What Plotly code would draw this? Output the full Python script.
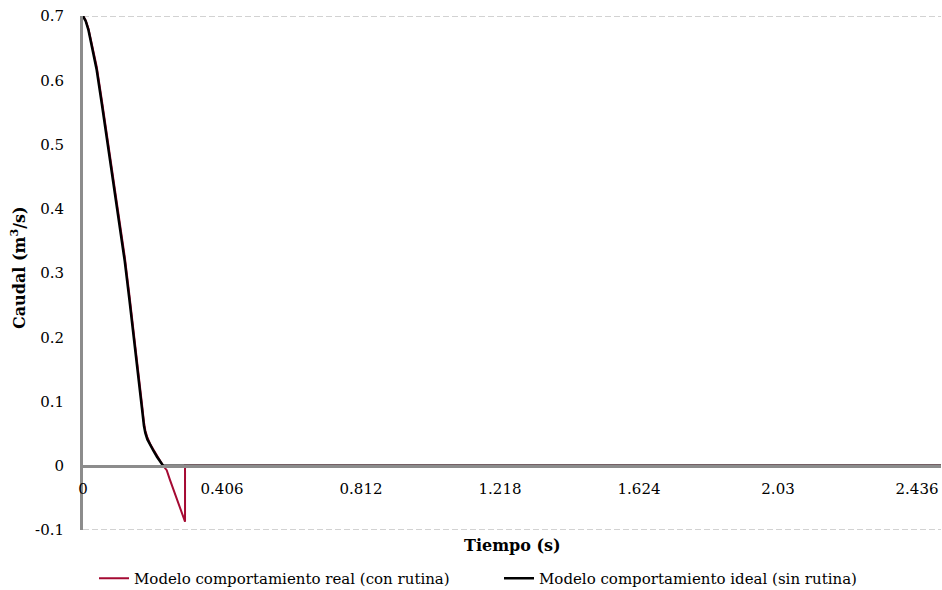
import plotly.graph_objects as go

# Flow (m3/s) versus time (s) for the two valve-closure models
t_ideal = [0.0, 0.008, 0.016, 0.024, 0.032, 0.040, 0.055, 0.070, 0.090, 0.110,
           0.122, 0.135, 0.150, 0.162, 0.172, 0.178, 0.182, 0.188, 0.197,
           0.206, 0.216, 0.226, 0.234, 2.506]
q_ideal = [0.700, 0.692, 0.678, 0.659, 0.638, 0.616, 0.563, 0.509, 0.437, 0.365,
           0.318, 0.261, 0.195, 0.140, 0.090, 0.062, 0.051, 0.041, 0.031,
           0.023, 0.014, 0.006, 0.000, 0.000]

t_real = [0.0, 0.008, 0.016, 0.024, 0.032, 0.040, 0.055, 0.070, 0.090, 0.110,
          0.122, 0.135, 0.150, 0.162, 0.172, 0.178, 0.182, 0.188, 0.197,
          0.206, 0.216, 0.226, 0.234, 0.2445, 0.254, 0.270, 0.285, 0.298,
          0.298, 2.506]
q_real = [0.700, 0.693, 0.680, 0.662, 0.642, 0.621, 0.569, 0.515, 0.443, 0.372,
          0.325, 0.268, 0.202, 0.147, 0.097, 0.068, 0.055, 0.044, 0.033,
          0.025, 0.015, 0.007, 0.000, -0.007, -0.022, -0.045, -0.066, -0.087,
          0.000, 0.000]

x_ticks = [0, 0.406, 0.812, 1.218, 1.624, 2.03, 2.436]
y_ticks = [-0.1, 0, 0.1, 0.2, 0.3, 0.4, 0.5, 0.6, 0.7]

serif = "DejaVu Serif"
grey = "#8c8c8c"

fig = go.Figure()
fig.add_trace(go.Scatter(
    x=t_real, y=q_real, mode="lines",
    name="Modelo comportamiento real (con rutina)",
    line=dict(color="#A50A33", width=2),
))
fig.add_trace(go.Scatter(
    x=t_ideal, y=q_ideal, mode="lines",
    name="Modelo comportamiento ideal (sin rutina)",
    line=dict(color="#000000", width=2.5),
))

# dashed frame lines at the top and bottom of the value range
for yv in (y_ticks[0], y_ticks[-1]):
    fig.add_shape(type="line", xref="paper", yref="y", x0=0, x1=1, y0=yv, y1=yv,
                  line=dict(color="#a6a6a6", width=1.2, dash="6px,3px"), layer="below")

fig.update_layout(
    width=942, height=590,
    margin=dict(l=83, r=1, t=16, b=60),
    plot_bgcolor="white", paper_bgcolor="white",
    font=dict(family=serif, size=15, color="#000"),
    showlegend=True,
    legend=dict(
        orientation="h", xref="container", yref="container",
        x=94 / 942, y=1 - 562 / 590, xanchor="left", yanchor="top",
        font=dict(family=serif, size=15),
        itemwidth=30, entrywidth=360, entrywidthmode="pixels",
        traceorder="normal",
    ),
    xaxis=dict(
        range=[0, 2.506], tickmode="array", tickvals=x_ticks,
        ticktext=[str(v) for v in x_ticks],
        anchor="free", position=0.125,
        showgrid=False, zeroline=False, showline=True,
        linecolor=grey, linewidth=3, ticks="",
        tickfont=dict(family=serif, size=15),
        ticklabelstandoff=8,
    ),
    yaxis=dict(
        range=[-0.1, 0.7], tickmode="array", tickvals=y_ticks,
        ticktext=[f"{v:g}" for v in y_ticks],
        showgrid=False, zeroline=False, showline=True,
        linecolor=grey, linewidth=3, ticks="",
        tickfont=dict(family=serif, size=15),
        ticklabelstandoff=13,
    ),
    annotations=[
        dict(text="<b>Tiempo (s)</b>", xref="paper", yref="paper",
             x=0.5, y=(530 - 545) / 514, xanchor="center", yanchor="middle",
             showarrow=False, font=dict(family=serif, size=16)),
        dict(text="<b>Caudal (m<sup>3</sup>/s)</b>", xref="paper", yref="paper",
             x=(18 - 83) / 858, y=(530 - 268) / 514, xanchor="center",
             yanchor="middle", textangle=-90, showarrow=False,
             font=dict(family=serif, size=16)),
    ],
)

fig.write_html("out.html")
